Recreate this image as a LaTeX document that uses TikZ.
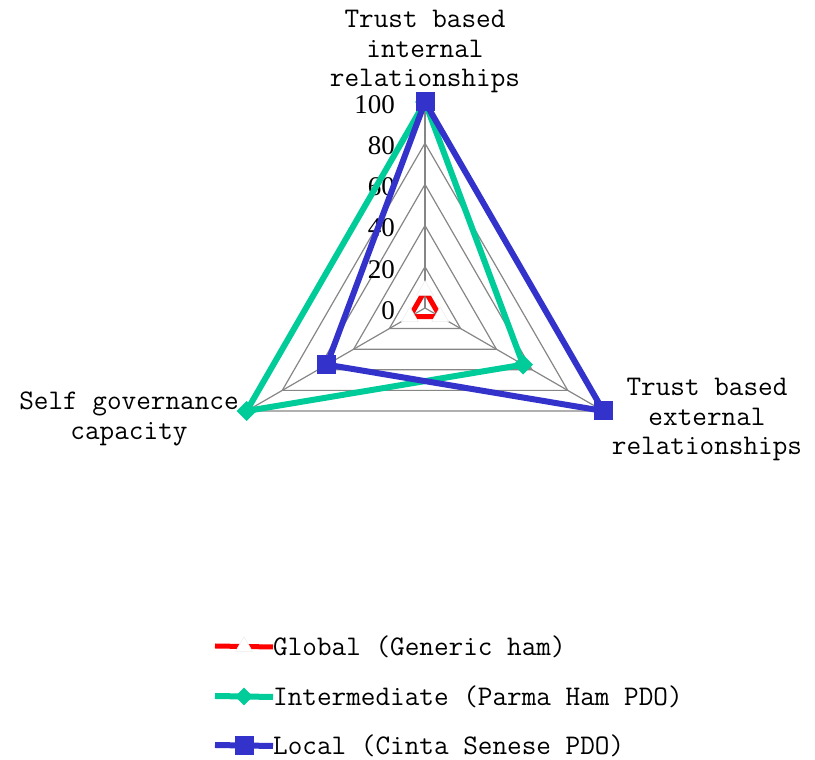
\documentclass[tikz,border=0pt]{standalone}
\usepackage{fontspec}
\newfontfamily\numfont{Liberation Serif}
\usetikzlibrary{shapes.geometric}

\definecolor{intgreen}{RGB}{0,204,153}
\definecolor{locblue}{RGB}{51,51,204}
\def\rr{2.06}

\begin{document}
\begin{tikzpicture}[x=1pt,y=1pt,
  mreza/.style={draw=gray!95, line width=1.2},
  lbl/.style={font=\ttfamily\fontsize{28.4}{29.5}\selectfont, align=center, inner sep=0},
  num/.style={font=\numfont\fontsize{27}{29}\selectfont, anchor=east, inner sep=0},
  globline/.style={draw=red, line width=5, line join=round},
  intline/.style={draw=intgreen, line width=6, line join=round},
  locline/.style={draw=locblue, line width=6, line join=round},
  trimark/.style={regular polygon, regular polygon sides=3, minimum size=19.6, inner sep=0, fill=white, draw=gray!15, line width=0.5},
  diamark/.style={diamond, minimum size=20, inner sep=0, fill=intgreen},
  sqmark/.style={rectangle, minimum size=19, inner sep=0, fill=locblue}]
\useasboundingbox (0,0) rectangle (815,760);

\begin{scope}[shift={(425,452)}]
\coordinate (O) at (0,0);
%mreza
\foreach \v in {20,40,...,100}
  \draw[mreza] (90:\v*\rr) -- (210:\v*\rr) -- (330:\v*\rr) -- cycle;
\foreach \a/\n in {90/T,330/R,210/L}
  {\coordinate (\n) at (\a:100*\rr); \draw[mreza] (O) -- (\n);}

%skala
\foreach \v in {0,20,...,100}
  \node[num] (s\v) at (-30,\v*\rr-2.5) {\v};

%globalno
\coordinate (g1) at (90:8.5*\rr);
\coordinate (g2) at (330:8.5*\rr);
\coordinate (g3) at (210:8.5*\rr);
\draw[globline] (g1) -- (g2) -- (g3) -- cycle;
\foreach \p in {g1,g2,g3} \node[trimark] at (\p) {};

%vmesno
\coordinate (i1) at (90:100*\rr);
\coordinate (i2) at (330:55*\rr);
\coordinate (i3) at (210:100*\rr);
\draw[intline] (i1) -- (i2) -- (i3) -- cycle;
\foreach \p in {i1,i2,i3} \node[diamark] at (\p) {};

%lokalno
\coordinate (l1) at (90:100*\rr);
\coordinate (l2) at (330:100*\rr);
\coordinate (l3) at (210:55*\rr);
\draw[locline] (l1) -- (l2) -- (l3) -- cycle;
\foreach \p in {l1,l2,l3} \node[sqmark] at (\p) {};

%oznake osi
\node[lbl, anchor=north] (tint) at (0,298) {Trust based\\internal\\relationships};
\node[lbl, anchor=north] (text) at (282,-70) {Trust based\\external\\relationships};
\node[lbl, anchor=north] (self) at (-296,-84) {Self governance\\capacity};
\end{scope}

%legenda
\node[lbl, anchor=west] (lt1) at (273,113) {Global (Generic ham)};
\node[lbl, anchor=west] (lt2) at (273,63) {Intermediate (Parma Ham PDO)};
\node[lbl, anchor=west] (lt3) at (273,14) {Local (Cinta Senese PDO)};
\coordinate (lc1) at (215,114);
\coordinate (lc2) at (215,64);
\coordinate (lc3) at (215,15);
\draw[globline] (lc1) -- (lt1.west) node[midway, trimark] {};
\draw[intline] (lc2) -- (lt2.west) node[midway, diamark] {};
\draw[locline] (lc3) -- (lt3.west) node[midway, sqmark] {};

\end{tikzpicture}
\end{document}
